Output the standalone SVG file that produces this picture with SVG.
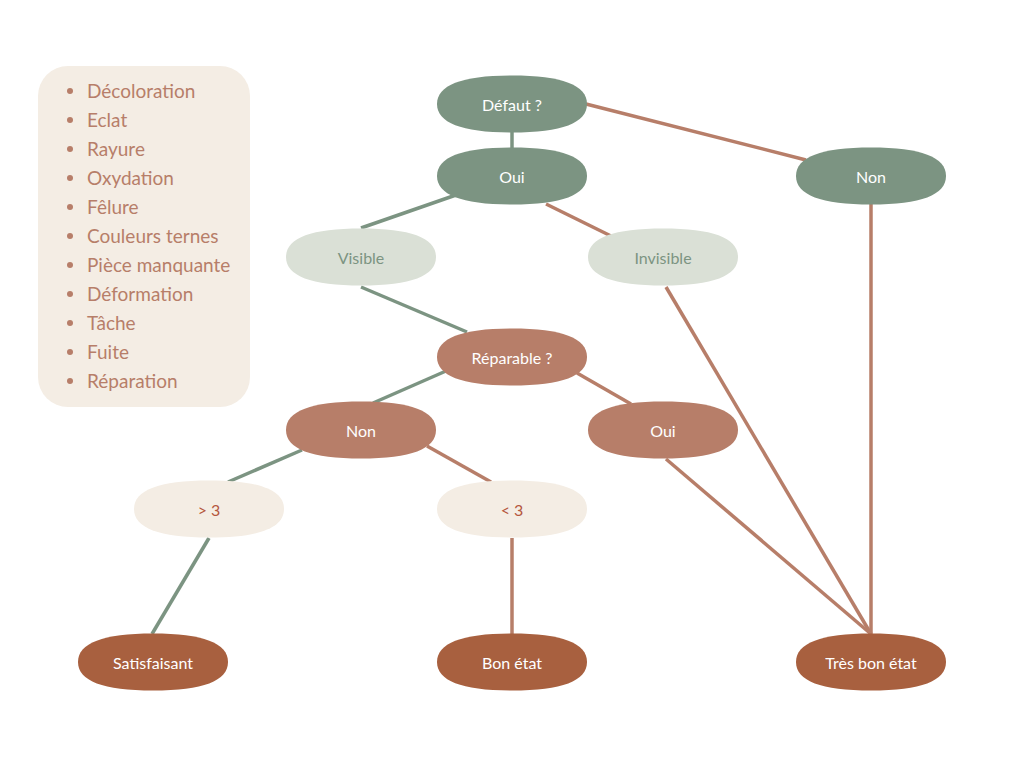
<svg xmlns="http://www.w3.org/2000/svg" width="1024" height="768" viewBox="0 0 1024 768">
<style>
.t{font-family:Lato,"Noto Sans","Liberation Sans",sans-serif;font-size:16px;text-anchor:middle;dominant-baseline:central}
.w{fill:#ffffff}
.g{fill:#7C9482}
.b{fill:#B5573D}
.ln{fill:none;stroke-width:3.5;stroke-linecap:butt}
.lg{stroke:#7C9482}
.lb{stroke:#B77E69}
.list{font-family:Lato,"Noto Sans","Liberation Sans",sans-serif;font-size:19px;fill:#B77E69}
</style>
<defs>
<path id="sh" d="M-75,0 C-75,-19 -50,-28.5 0,-28.5 C50,-28.5 75,-19 75,0 C75,19 50,28.5 0,28.5 C-50,28.5 -75,19 -75,0 Z"/>
</defs>
<rect width="1024" height="768" fill="#ffffff"/>
<g id="legend">
<rect x="38" y="66" width="212" height="341" rx="30" fill="#F4EDE4"/>
<g fill="#B77E69">
<circle cx="70" cy="91" r="3"/><circle cx="70" cy="120" r="3"/><circle cx="70" cy="149" r="3"/><circle cx="70" cy="178" r="3"/><circle cx="70" cy="207" r="3"/><circle cx="70" cy="236" r="3"/><circle cx="70" cy="265" r="3"/><circle cx="70" cy="294" r="3"/><circle cx="70" cy="323" r="3"/><circle cx="70" cy="352" r="3"/><circle cx="70" cy="381" r="3"/>
</g>
<text class="list" x="87" y="98">Décoloration</text>
<text class="list" x="87" y="127">Eclat</text>
<text class="list" x="87" y="156">Rayure</text>
<text class="list" x="87" y="185">Oxydation</text>
<text class="list" x="87" y="214">Fêlure</text>
<text class="list" x="87" y="243">Couleurs ternes</text>
<text class="list" x="87" y="272">Pièce manquante</text>
<text class="list" x="87" y="301">Déformation</text>
<text class="list" x="87" y="330">Tâche</text>
<text class="list" x="87" y="359">Fuite</text>
<text class="list" x="87" y="388">Réparation</text>
</g>
<g id="connectors">
<line class="ln lg" x1="512" y1="130" x2="512" y2="150"/>
<line class="ln lb" x1="586" y1="104" x2="806" y2="160"/>
<line class="ln lg" x1="456" y1="195" x2="361" y2="228"/>
<line class="ln lb" x1="546" y1="204" x2="611" y2="236"/>
<line class="ln lg" x1="361" y1="287" x2="467" y2="332"/>
<line class="ln lb" x1="666" y1="287" x2="871" y2="634"/>
<line class="ln lb" x1="871" y1="204" x2="871" y2="634"/>
<line class="ln lg" x1="446" y1="371" x2="373" y2="403"/>
<line class="ln lb" x1="577" y1="373" x2="631" y2="404"/>
<line class="ln lg" x1="302" y1="450" x2="228" y2="482"/>
<line class="ln lb" x1="427" y1="446" x2="491" y2="482"/>
<line class="ln lb" x1="666" y1="459" x2="871" y2="634"/>
<line class="ln lg" x1="209" y1="538" x2="152" y2="634"/>
<line class="ln lb" x1="512" y1="538" x2="512" y2="634"/>
</g>
<g id="n-defaut"><use href="#sh" x="512" y="104" fill="#7C9482"/><text class="t w" x="512" y="104">Défaut ?</text></g>
<g id="n-oui1"><use href="#sh" x="512" y="176" fill="#7C9482"/><text class="t w" x="512" y="176">Oui</text></g>
<g id="n-non1"><use href="#sh" x="871" y="176" fill="#7C9482"/><text class="t w" x="871" y="176">Non</text></g>
<g id="n-visible"><use href="#sh" x="361" y="257" fill="#DAE0D6"/><text class="t g" x="361" y="257">Visible</text></g>
<g id="n-invisible"><use href="#sh" x="663" y="257" fill="#DAE0D6"/><text class="t g" x="663" y="257">Invisible</text></g>
<g id="n-reparable"><use href="#sh" x="512" y="357" fill="#B77E69"/><text class="t w" x="512" y="357">Réparable ?</text></g>
<g id="n-non2"><use href="#sh" x="361" y="430" fill="#B77E69"/><text class="t w" x="361" y="430">Non</text></g>
<g id="n-oui2"><use href="#sh" x="663" y="430" fill="#B77E69"/><text class="t w" x="663" y="430">Oui</text></g>
<g id="n-gt3"><use href="#sh" x="209" y="509" fill="#F4EDE4"/><text class="t b" x="209" y="509">&gt; 3</text></g>
<g id="n-lt3"><use href="#sh" x="512" y="509" fill="#F4EDE4"/><text class="t b" x="512" y="509">&lt; 3</text></g>
<g id="n-satisfaisant"><use href="#sh" x="153" y="662" fill="#A8603F"/><text class="t w" x="153" y="662">Satisfaisant</text></g>
<g id="n-bonetat"><use href="#sh" x="512" y="662" fill="#A8603F"/><text class="t w" x="512" y="662">Bon état</text></g>
<g id="n-tresbonetat"><use href="#sh" x="871" y="662" fill="#A8603F"/><text class="t w" x="871" y="662">Très bon état</text></g>
</svg>
